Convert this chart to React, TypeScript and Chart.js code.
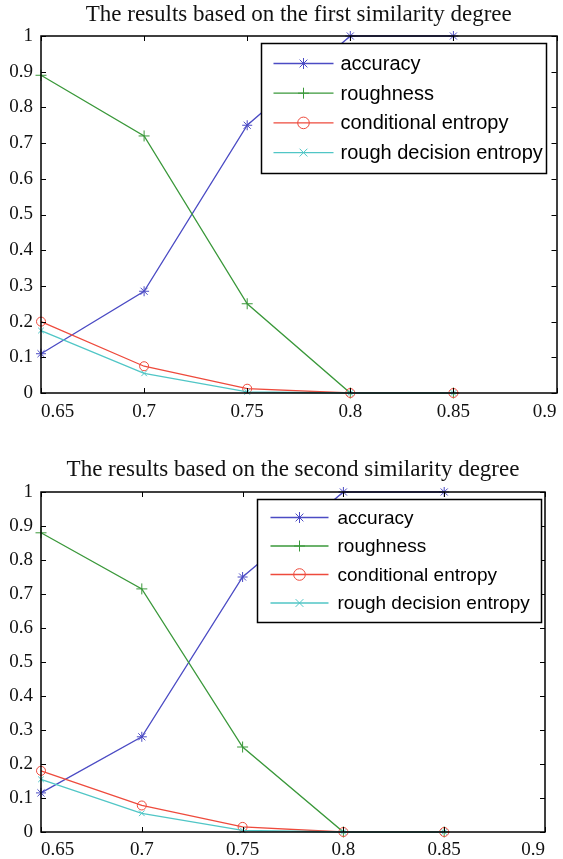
import React, { useEffect, useRef } from "react";
import { Chart, registerables } from "chart.js";

Chart.register(...registerables);

// ---------- data ----------
const X_VALUES = [0.65, 0.7, 0.75, 0.8, 0.85];
const X_TICKS = [0.65, 0.7, 0.75, 0.8, 0.85, 0.9];
const Y_TICKS = [0, 0.1, 0.2, 0.3, 0.4, 0.5, 0.6, 0.7, 0.8, 0.9, 1];
const SERIES_NAMES = ["accuracy", "roughness", "conditional entropy", "rough decision entropy"];

const TITLE_1 = "The results based on the first similarity degree";
const ACCURACY_1 = [0.11, 0.285, 0.75, 1, 1];
const ROUGHNESS_1 = [0.89, 0.72, 0.25, 0, 0];
const COND_ENTROPY_1 = [0.2, 0.075, 0.012, 0, 0];
const ROUGH_DECISION_1 = [0.175, 0.055, 0.003, 0, 0];

const TITLE_2 = "The results based on the second similarity degree";
const ACCURACY_2 = [0.115, 0.28, 0.75, 1, 1];
const ROUGHNESS_2 = [0.88, 0.715, 0.25, 0, 0];
const COND_ENTROPY_2 = [0.18, 0.078, 0.015, 0, 0];
const ROUGH_DECISION_2 = [0.155, 0.055, 0.005, 0, 0];

// ---------- styles ----------
const COLORS = ["#4b4bc4", "#3a983a", "#ee4a3c", "#50c6c6"];
const MARKERS = ["star", "cross", "circle", "crossRot"];
const POINT_R = [5, 5.5, 4.5, 4];
const SERIF = "'Liberation Serif', 'Times New Roman', serif";
const SANS = "'Liberation Sans', Arial, sans-serif";

type Cfg = {
  title: string;
  series: number[][];
  height: number;
  top: number;
  padRight: number;
  titlePadTop: number;
  titlePadBottom: number;
  xAxisHeight: number;
  xTickPad: number;
  legend: { rightOff: number; topOff: number; w: number; h: number; row0: number; rowGap: number; lineX: number; lineW: number; textX: number; font: number };
};

const CONFIGS: Cfg[] = [
  {
    title: TITLE_1,
    series: [ACCURACY_1, ROUGHNESS_1, COND_ENTROPY_1, ROUGH_DECISION_1],
    height: 420,
    top: 0,
    padRight: 6,
    titlePadTop: 1.5,
    titlePadBottom: 6.9,
    xAxisHeight: 27,
    xTickPad: 8,
    legend: { rightOff: 11, topOff: 7, w: 285, h: 130, row0: 20, rowGap: 29.7, lineX: 12, lineW: 60, textX: 79, font: 20 },
  },
  {
    title: TITLE_2,
    series: [ACCURACY_2, ROUGHNESS_2, COND_ENTROPY_2, ROUGH_DECISION_2],
    height: 419,
    top: 440,
    padRight: 18,
    titlePadTop: 16.4,
    titlePadBottom: 8,
    xAxisHeight: 27,
    xTickPad: 7,
    legend: { rightOff: 4, topOff: 7, w: 284, h: 123, row0: 18, rowGap: 28.5, lineX: 13, lineW: 58, textX: 80, font: 19 },
  },
];

function drawMarker(ctx: CanvasRenderingContext2D, style: string, x: number, y: number, r: number, color: string) {
  ctx.save();
  ctx.strokeStyle = color;
  ctx.lineWidth = 1;
  ctx.beginPath();
  if (style === "circle") {
    ctx.arc(x, y, r, 0, Math.PI * 2);
  } else if (style === "cross" || style === "star") {
    ctx.moveTo(x - r, y); ctx.lineTo(x + r, y);
    ctx.moveTo(x, y - r); ctx.lineTo(x, y + r);
  }
  if (style === "crossRot" || style === "star") {
    const d = r * 0.707;
    ctx.moveTo(x - d, y - d); ctx.lineTo(x + d, y + d);
    ctx.moveTo(x - d, y + d); ctx.lineTo(x + d, y - d);
  }
  ctx.stroke();
  ctx.restore();
}

function makeFramePlugin(cfg: Cfg) {
  return {
    id: "frameLegend",
    afterDatasetsDraw(chart: any) {
      const ctx: CanvasRenderingContext2D = chart.ctx;
      const { left, right, top, bottom } = chart.chartArea;
      const xs = chart.scales.x;
      const ys = chart.scales.y;
      ctx.save();
      ctx.strokeStyle = "#000";
      ctx.lineWidth = 1.5;
      ctx.strokeRect(Math.round(left), Math.round(top), Math.round(right - left), Math.round(bottom - top));
      const tl = 5;
      ctx.lineWidth = 1;
      ctx.beginPath();
      X_TICKS.forEach((v) => {
        const px = Math.round(xs.getPixelForValue(v)) + 0.5;
        ctx.moveTo(px, bottom); ctx.lineTo(px, bottom - tl);
        ctx.moveTo(px, top); ctx.lineTo(px, top + tl);
      });
      Y_TICKS.forEach((v) => {
        const py = Math.round(ys.getPixelForValue(v)) + 0.5;
        ctx.moveTo(left, py); ctx.lineTo(left + tl, py);
        ctx.moveTo(right, py); ctx.lineTo(right - tl, py);
      });
      ctx.stroke();

      // legend box
      const L = cfg.legend;
      const bx = Math.round(right - L.rightOff - L.w) + 0.5;
      const by = Math.round(top + L.topOff) + 0.5;
      ctx.fillStyle = "#fff";
      ctx.fillRect(bx, by, L.w, L.h);
      ctx.strokeStyle = "#000";
      ctx.lineWidth = 1.5;
      ctx.strokeRect(bx, by, L.w, L.h);
      ctx.font = `${L.font}px ${SANS}`;
      ctx.textBaseline = "middle";
      ctx.textAlign = "left";
      SERIES_NAMES.forEach((name, i) => {
        const cy = by + L.row0 + i * L.rowGap;
        ctx.strokeStyle = COLORS[i];
        ctx.lineWidth = 1.3;
        ctx.beginPath();
        ctx.moveTo(bx + L.lineX, cy);
        ctx.lineTo(bx + L.lineX + L.lineW, cy);
        ctx.stroke();
        drawMarker(ctx, MARKERS[i], bx + L.lineX + L.lineW / 2, cy, i === 2 ? 5.8 : 5.5, COLORS[i]);
        ctx.fillStyle = "#000";
        ctx.fillText(name, bx + L.textX, cy + 1);
      });
      ctx.restore();
    },
  };
}

function Panel({ cfg }: { cfg: Cfg }) {
  const ref = useRef<HTMLCanvasElement | null>(null);
  useEffect(() => {
    if (!ref.current) return;
    const datasets = SERIES_NAMES.map((name, i) => ({
      label: name,
      data: X_VALUES.map((x, j) => ({ x, y: cfg.series[i][j] })),
      borderColor: COLORS[i],
      borderWidth: 1.3,
      pointStyle: MARKERS[i] as any,
      pointRadius: POINT_R[i],
      pointBorderColor: COLORS[i],
      pointBackgroundColor: "rgba(0,0,0,0)",
      pointBorderWidth: 1,
      fill: false,
      tension: 0,
      order: 3 - i,
      clip: 6 as any,
    }));
    const chart = new Chart(ref.current, {
      type: "line",
      data: { datasets },
      options: {
        responsive: false,
        animation: false,
        devicePixelRatio: 1,
        layout: { padding: { left: 0, right: cfg.padRight, top: 0, bottom: 0 } },
        plugins: {
          legend: { display: false },
          tooltip: { enabled: false },
          title: {
            display: true,
            text: cfg.title,
            color: "#111",
            fullSize: false,
            font: { family: SERIF, size: 23, weight: "normal" as any, lineHeight: 1.2 },
            padding: { top: cfg.titlePadTop, bottom: cfg.titlePadBottom },
          },
        },
        scales: {
          x: {
            type: "linear",
            min: 0.65,
            max: 0.9,
            grid: { display: false, drawTicks: false },
            border: { display: false },
            afterBuildTicks: (s: any) => { s.ticks = X_TICKS.map((v) => ({ value: v })); },
            afterFit: (s: any) => { s.height = cfg.xAxisHeight; s.paddingLeft = 0; s.paddingRight = 0; },
            ticks: {
              color: "#111",
              padding: cfg.xTickPad,
              maxRotation: 0,
              autoSkip: false,
              align: "inner" as any,
              font: { family: SERIF, size: 19 },
              callback: (v: any) => String(Number(Number(v).toFixed(2))),
            },
          },
          y: {
            type: "linear",
            min: 0,
            max: 1,
            grid: { display: false, drawTicks: false },
            border: { display: false },
            afterBuildTicks: (s: any) => { s.ticks = Y_TICKS.map((v) => ({ value: v })); },
            afterFit: (s: any) => { s.width = 41; s.paddingTop = 0; s.paddingBottom = 0; },
            ticks: {
              color: "#111",
              padding: 8,
              autoSkip: false,
              font: { family: SERIF, size: 19 },
              callback: (v: any) => String(Number(Number(v).toFixed(1))),
            },
          },
        },
      },
      plugins: [makeFramePlugin(cfg)],
    });
    return () => chart.destroy();
  }, [cfg]);
  return (
    <canvas
      ref={ref}
      width={563}
      height={cfg.height}
      style={{ position: "absolute", left: 0, top: cfg.top, width: 563, height: cfg.height }}
    />
  );
}

export default function App() {
  return (
    <div style={{ position: "fixed", left: 0, top: 0, width: 563, height: 859, background: "#fff", overflow: "hidden" }}>
      {CONFIGS.map((c, i) => (
        <Panel key={i} cfg={c} />
      ))}
    </div>
  );
}
